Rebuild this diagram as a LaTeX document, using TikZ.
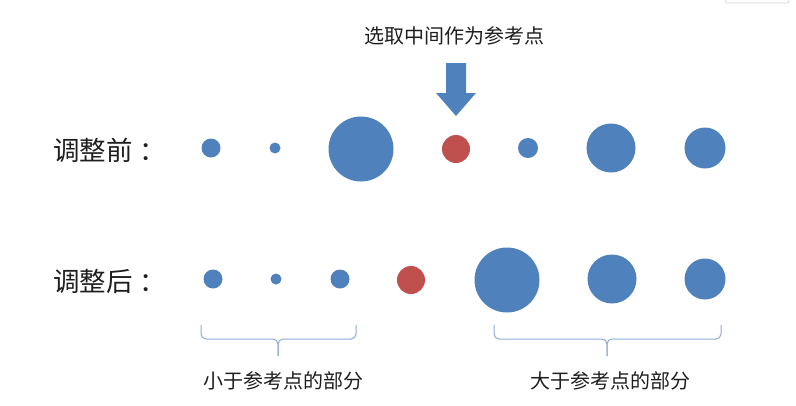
\documentclass[tikz,border=0pt]{standalone}
\usepackage{fontspec}
\newfontfamily\cjk{Noto Sans CJK SC}
\definecolor{ballblue}{HTML}{4F81BD}
\definecolor{ballred}{HTML}{C0504D}
\definecolor{bracecol}{HTML}{8FAADC}
\definecolor{txtcol}{HTML}{1E1E1E}
\begin{document}
\begin{tikzpicture}[x=1pt, y=-1pt,
    ball/.style={circle, fill=ballblue, inner sep=0pt, minimum size=#1},
    pivot/.style={circle, fill=ballred, inner sep=0pt, minimum size=#1},
    rowlabel/.style={anchor=west, font=\cjk\fontsize{26.5}{30}\selectfont, text=txtcol, inner sep=0pt},
    note/.style={font=\cjk\fontsize{20}{24}\selectfont, text=txtcol, inner sep=0pt},
    brace/.style={draw=bracecol, line width=1pt, rounded corners=5pt}
]
\useasboundingbox (0,0) rectangle (796,405);

% Window corner
\draw[gray!35, line width=0.6pt, rounded corners=2pt] (725,-6) rectangle (789,3);

% Title and arrow
\node[note] (title) at (454,36) {选取中间作为参考点};
\fill[ballblue] (446,63) -- (466,63) -- (466,93) -- (476,93) -- (456,116)
    -- (436,93) -- (446,93) -- cycle;

% Before
\node[rowlabel] (before) at (53,150) {调整前\kern7pt：};
\node[ball=19pt] (b1) at (211,148) {};
\node[ball=11pt] (b2) at (275,148) {};
\node[ball=65pt] (b3) at (361,149) {};
\node[pivot=28pt] (b4) at (456,149) {};
\node[ball=20pt] (b5) at (528,148) {};
\node[ball=49pt] (b6) at (611,148) {};
\node[ball=41pt] (b7) at (705,148) {};

% After
\node[rowlabel] (after) at (53,281) {调整后\kern7pt：};
\node[ball=19pt] (a1) at (213,279) {};
\node[ball=11pt] (a2) at (276,279) {};
\node[ball=19pt] (a3) at (340,279) {};
\node[pivot=28pt] (a4) at (411,280) {};
\node[ball=65pt] (a5) at (507,280) {};
\node[ball=49pt] (a6) at (612,279) {};
\node[ball=41pt] (a7) at (705,279) {};

% Braces
\draw[brace] (201,325) -- (201,339) -- (278,339) -- (278,356);
\draw[brace] (356,325) -- (356,339) -- (278,339) -- (278,356);
\draw[brace] (494,325) -- (494,339) -- (607,339) -- (607,356);
\draw[brace] (721,325) -- (721,339) -- (607,339) -- (607,356);

\node[note] (less) at (283,381) {小于参考点的部分};
\node[note] (more) at (610,381) {大于参考点的部分};

\end{tikzpicture}
\end{document}
